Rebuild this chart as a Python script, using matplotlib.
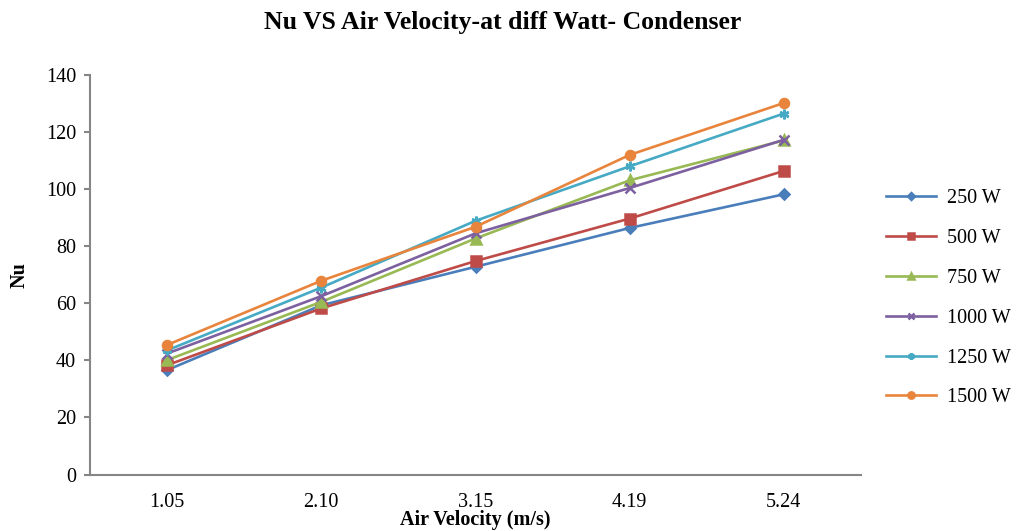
import matplotlib.pyplot as plt

plt.rcParams['font.family'] = ['Liberation Serif', 'DejaVu Serif']

velocity = ['1.05', '2.10', '3.15', '4.19', '5.24']
labels = ['250 W', '500 W', '750 W', '1000 W', '1250 W', '1500 W']

nu_250 = [36.6, 59.3, 72.8, 86.4, 98.2]
nu_500 = [38.3, 58.2, 74.8, 89.7, 106.4]
nu_750 = [40.1, 60.5, 82.7, 103.1, 117.1]
nu_1000 = [42.4, 62.5, 84.5, 100.4, 117.3]
nu_1250 = [43.5, 65.5, 88.9, 108.0, 126.5]
nu_1500 = [45.4, 67.9, 86.8, 112.0, 130.2]

series = [nu_250, nu_500, nu_750, nu_1000, nu_1250, nu_1500]
colors = ['#4A7EBB', '#BE4B48', '#98B954', '#7D60A0', '#46AAC5', '#E8843C']
markers = ['D', 's', '^', 'x', (6, 2, 0), 'o']
msizes = [5, 6.5, 6.5, 6.5, 7, 6.5]

fig = plt.figure(figsize=(10.16, 5.31), dpi=100)
ax = fig.add_axes([90 / 1016, 1 - 474.5 / 531, (861 - 90) / 1016, (474.5 - 75) / 531])

x = list(range(len(velocity)))
for vals, lab, c, m, ms in zip(series, labels, colors, markers, msizes):
    ax.plot(x, vals, color=c, lw=1.9, marker=m, ms=ms, mec=c, mfc=c, mew=1.8, label=lab)

ax.set_xlim(-0.5, len(velocity) - 0.5)
ax.set_ylim(0, 140)
ax.set_yticks(range(0, 141, 20))
ax.set_xticks(x)
ax.set_xticklabels(velocity)

for s in ['top', 'right']:
    ax.spines[s].set_visible(False)
for s in ['left', 'bottom']:
    ax.spines[s].set_color('#868686')
    ax.spines[s].set_linewidth(1.5)

ax.tick_params(axis='y', direction='out', length=4, width=1.5, color='#868686', labelsize=14.5, pad=6)
ax.tick_params(axis='x', length=0, labelsize=14.5, pad=13)

ax.set_xlabel('Air Velocity (m/s)', fontsize=14.5, fontweight='bold', labelpad=-1)
ax.set_ylabel('Nu', fontsize=14.5, fontweight='bold', labelpad=12)
fig.suptitle('Nu VS Air Velocity-at diff Watt- Condenser', fontsize=18.5, fontweight='bold',
             x=503 / 1016, y=1 - 22 / 531, va='center')

fig.legend(loc='upper left', bbox_to_anchor=(868 / 1016, 1 - 171 / 531), frameon=False,
           fontsize=14.5, handlelength=2.5, labelspacing=1.03, handletextpad=0.5, markerscale=0.7)

plt.savefig('out.png', dpi=100)
